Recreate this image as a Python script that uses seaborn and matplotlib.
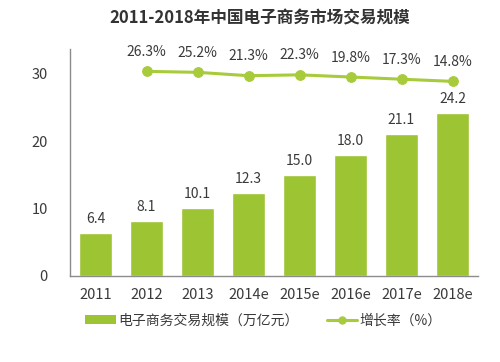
import matplotlib
matplotlib.use("Agg")
import matplotlib.pyplot as plt
import seaborn as sns
import pandas as pd
from matplotlib.patches import Patch
from matplotlib.lines import Line2D

years = ["2011", "2012", "2013", "2014e", "2015e", "2016e", "2017e", "2018e"]
scale = [6.4, 8.1, 10.1, 12.3, 15.0, 18.0, 21.1, 24.2]
growth_years = ["2012", "2013", "2014e", "2015e", "2016e", "2017e", "2018e"]
growth = [26.3, 25.2, 21.3, 22.3, 19.8, 17.3, 14.8]
yticks = [0, 10, 20, 30]

sns.set_theme(style="white")
plt.rcParams['font.family'] = ['Noto Sans CJK SC', 'DejaVu Sans']

bar_color = "#9dc432"
line_color = "#a8cb3c"
text_color = "#3a3a3a"

fig = plt.figure(figsize=(5, 3.62), dpi=100)
ax = fig.add_axes([0.14, 0.2376, 0.816, 0.627])

df = pd.DataFrame({"year": years, "scale": scale})
sns.barplot(data=df, x="year", y="scale", ax=ax, color=bar_color, width=0.63,
            saturation=1, order=years)
ax.set_xlim(-0.5, 7.5)
ax.set_ylim(0, 33.7)
ax.set_yticks(yticks)
ax.set_xlabel("")
ax.set_ylabel("")
for p, v in zip(ax.patches, scale):
    ax.annotate(f"{v:.1f}", (p.get_x() + p.get_width() / 2, v), xytext=(0, 5),
                textcoords="offset points", ha="center", va="bottom",
                fontsize=10, color=text_color)

for s in ["top", "right"]:
    ax.spines[s].set_visible(False)
for s in ["left", "bottom"]:
    ax.spines[s].set_color("#8c8c8c")
    ax.spines[s].set_linewidth(1)
ax.tick_params(axis="x", length=0, labelsize=10.5, colors=text_color, pad=9)
ax.tick_params(axis="y", length=0, labelsize=10.5, colors=text_color, pad=16)

ax2 = ax.twinx()
xpos = [years.index(y) for y in growth_years]
gdf = pd.DataFrame({"x": xpos, "g": growth})
sns.lineplot(data=gdf, x="x", y="g", ax=ax2, color=line_color, linewidth=2.2,
             marker="o", markersize=7, markeredgecolor=line_color)
ax2.set_ylim(-209, 52)
ax2.set_xlim(-0.5, 7.5)
ax2.axis("off")
for x, g in zip(xpos, growth):
    ax2.annotate(f"{g:.1f}%", (x, g), xytext=(0, 9), textcoords="offset points",
                 ha="center", va="bottom", fontsize=10, color=text_color)

fig.text(0.52, 0.95, "2011-2018年中国电子商务市场交易规模", ha="center", va="center",
         fontsize=12, fontweight="bold", color="#333333")

handles = [Patch(facecolor=bar_color, edgecolor="none"),
           Line2D([0], [0], color=line_color, lw=2.2, marker="o", markersize=5)]
fig.legend(handles, ["电子商务交易规模（万亿元）", "增长率（%）"], loc="center",
           bbox_to_anchor=(0.527, 0.115), ncol=2, frameon=False, fontsize=10,
           labelcolor=text_color, handlelength=2.2, handletextpad=0.2,
           columnspacing=2.0)

fig.savefig("out.png", dpi=100)
